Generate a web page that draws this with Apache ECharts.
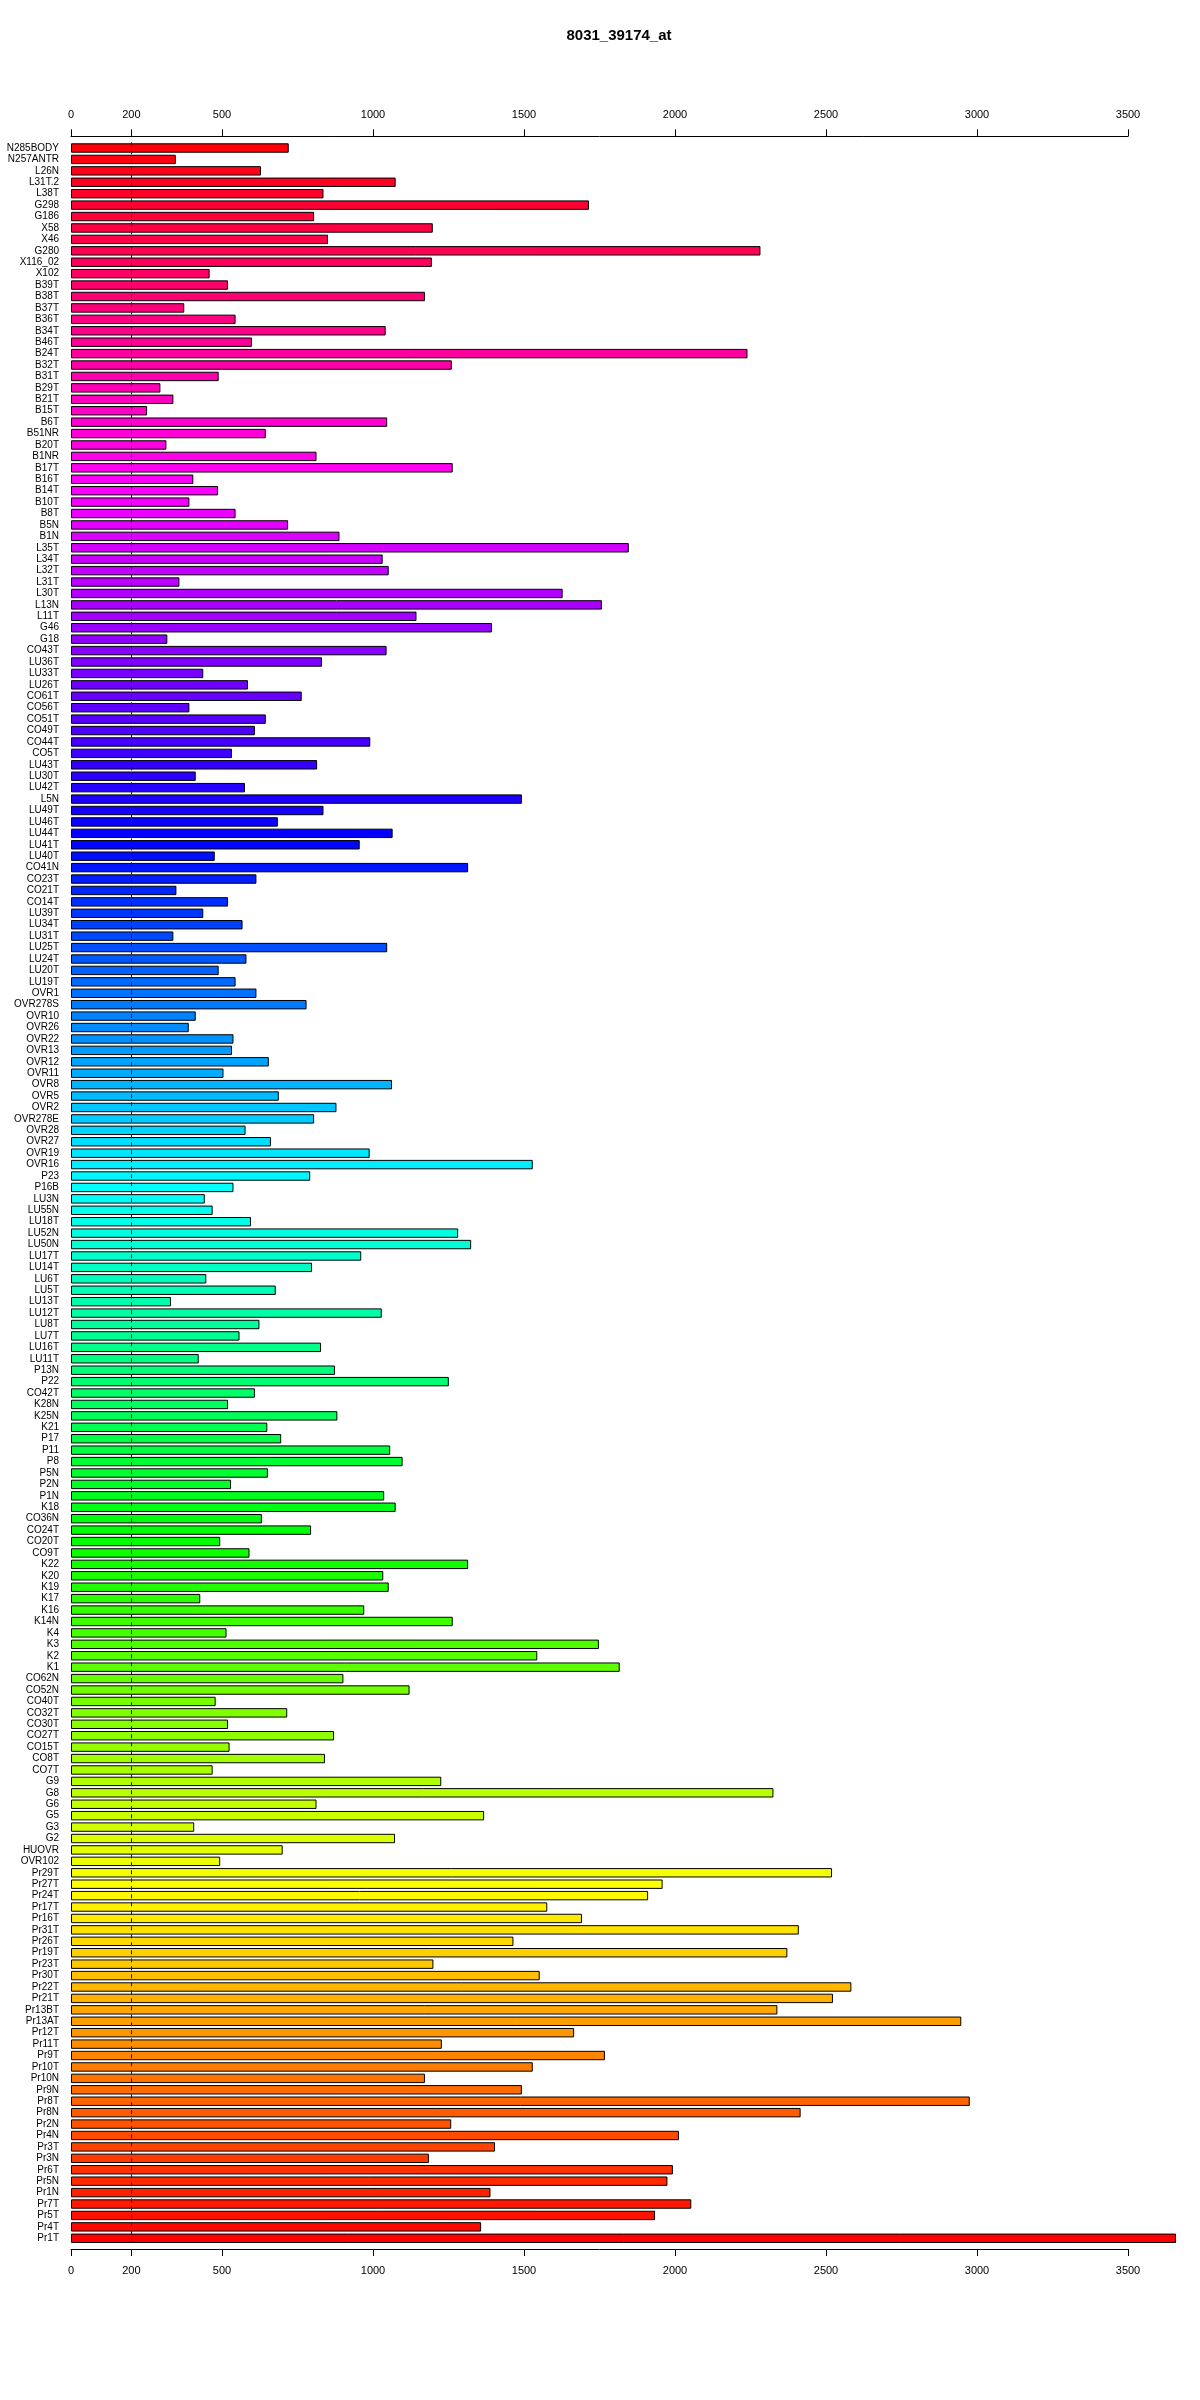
<!DOCTYPE html>
<html>
<head>
<meta charset="utf-8">
<script src="https://cdn.jsdelivr.net/npm/echarts@6/dist/echarts.min.js"></script>
<style>
html,body{margin:0;padding:0;background:#fff;}
#chart{width:1200px;height:2400px;}
</style>
</head>
<body>
<div id="chart"></div>
<script>
const chartTitle = "8031_39174_at";

const categories = [
"N285BODY","N257ANTR","L26N","L31T.2","L38T","G298","G186","X58","X46","G280","X116_02","X102","B39T","B38T","B37T",
"B36T","B34T","B46T","B24T","B32T","B31T","B29T","B21T","B15T","B6T","B51NR","B20T","B1NR","B17T","B16T",
"B14T","B10T","B8T","B5N","B1N","L35T","L34T","L32T","L31T","L30T","L13N","L11T","G46","G18","CO43T",
"LU36T","LU33T","LU26T","CO61T","CO56T","CO51T","CO49T","CO44T","CO5T","LU43T","LU30T","LU42T","L5N","LU49T","LU46T","LU44T",
"LU41T","LU40T","CO41N","CO23T","CO21T","CO14T","LU39T","LU34T","LU31T","LU25T","LU24T","LU20T","LU19T","OVR1","OVR278S",
"OVR10","OVR26","OVR22","OVR13","OVR12","OVR11","OVR8","OVR5","OVR2","OVR278E","OVR28","OVR27","OVR19","OVR16","P23",
"P16B","LU3N","LU55N","LU18T","LU52N","LU50N","LU17T","LU14T","LU6T","LU5T","LU13T","LU12T","LU8T","LU7T","LU16T","LU11T",
"P13N","P22","CO42T","K28N","K25N","K21","P17","P11","P8","P5N","P2N","P1N","K18","CO36N","CO24T",
"CO20T","CO9T","K22","K20","K19","K17","K16","K14N","K4","K3","K2","K1","CO62N","CO52N","CO40T",
"CO32T","CO30T","CO27T","CO15T","CO8T","CO7T","G9","G8","G6","G5","G3","G2","HUOVR","OVR102","Pr29T",
"Pr27T","Pr24T","Pr17T","Pr16T","Pr31T","Pr26T","Pr19T","Pr23T","Pr30T","Pr22T","Pr21T","Pr13BT","Pr13AT","Pr12T","Pr11T","Pr9T",
"Pr10T","Pr10N","Pr9N","Pr8T","Pr8N","Pr2N","Pr4N","Pr3T","Pr3N","Pr6T","Pr5N","Pr1N","Pr7T","Pr5T","Pr4T","Pr1T"
];

const values = [
721,347,629,1075,836,1715,805,1198,851,2283,1195,459,520,1172,375,
545,1042,599,2240,1261,489,296,339,252,1047,645,316,813,1264,405,
487,392,545,719,889,1847,1032,1052,359,1628,1758,1144,1394,319,1045,
831,438,586,764,392,645,609,991,533,815,413,576,1493,836,685,1065,
956,476,1315,614,349,520,438,568,339,1047,581,489,545,614,780,
413,390,538,533,655,505,1063,688,879,805,578,662,989,1529,792,
538,443,469,596,1282,1325,961,798,448,678,331,1029,624,558,828,423,
874,1251,609,520,882,650,696,1057,1098,652,530,1037,1075,632,795,
494,591,1315,1034,1052,428,971,1264,515,1748,1544,1817,902,1121,479,
716,520,871,525,841,469,1226,2326,813,1368,408,1073,701,494,2520,
1959,1911,1577,1692,2410,1465,2372,1200,1552,2584,2523,2339,2948,1666,1228,1768,
1529,1172,1493,2976,2416,1259,2013,1404,1185,1993,1975,1389,2054,1934,1358,3659
];

const tickValues = [0,200,500,1000,1500,2000,2500,3000,3500];
const thresholdValue = 200;

function hsvToHex(h, s, v) {
  const i = Math.floor(h * 6);
  const f = h * 6 - i;
  const p = v * (1 - s), q = v * (1 - f * s), t = v * (1 - (1 - f) * s);
  let r, g, b;
  switch (i % 6) {
    case 0: r = v; g = t; b = p; break;
    case 1: r = q; g = v; b = p; break;
    case 2: r = p; g = v; b = t; break;
    case 3: r = p; g = q; b = v; break;
    case 4: r = t; g = p; b = v; break;
    default: r = v; g = p; b = q;
  }
  const hx = x => Math.round(x * 255).toString(16).padStart(2, '0');
  return '#' + hx(r) + hx(g) + hx(b);
}

const n = categories.length;
const barData = values.map((v, i) => ({
  value: v,
  itemStyle: { color: hsvToHex((n - 1 - i) / n, 1, 1) }
}));

const fontFam = '"Liberation Sans", Arial, sans-serif';

const xAxisCommon = {
  type: 'value',
  min: 0,
  max: 3500,
  splitLine: { show: false },
  axisLine: { show: true, onZero: false, lineStyle: { color: '#000', width: 1 } },
  axisTick: { show: true, length: 7, customValues: tickValues, lineStyle: { color: '#000', width: 1 } },
  axisLabel: {
    show: true, customValues: tickValues, margin: 16, fontSize: 11, color: '#000', fontFamily: fontFam,
    formatter: v => String(v)
  }
};

const chart = echarts.init(document.getElementById('chart'), null, { renderer: 'canvas' });
chart.setOption({
  animation: false,
  backgroundColor: '#ffffff',
  title: {
    text: chartTitle,
    left: 614,
    textAlign: 'center',
    top: 23,
    textStyle: { fontSize: 15, fontWeight: 'bold', color: '#000', fontFamily: fontFam }
  },
  grid: { left: 71, right: 72, top: 142.3, height: 2101.7, containLabel: false },
  xAxis: [
    Object.assign({}, xAxisCommon, { position: 'bottom', offset: 5 }),
    Object.assign({}, xAxisCommon, { position: 'top', offset: 6 })
  ],
  yAxis: {
    type: 'category',
    data: categories,
    inverse: true,
    axisLine: { show: false },
    axisTick: { show: false },
    splitLine: { show: false },
    axisLabel: { interval: 0, fontSize: 10, color: '#000', margin: 12, fontFamily: fontFam }
  },
  series: [{
    type: 'bar',
    xAxisIndex: 0,
    data: barData,
    clip: false,
    barCategoryGap: '17.6%',
    itemStyle: { borderColor: '#000', borderWidth: 1 },
    markLine: {
      silent: true,
      symbol: ['none', 'none'],
      label: { show: false },
      lineStyle: { color: '#0000ff', type: [4, 4], width: 1 },
      data: [{ xAxis: thresholdValue }]
    }
  }]
});
</script>
</body>
</html>
